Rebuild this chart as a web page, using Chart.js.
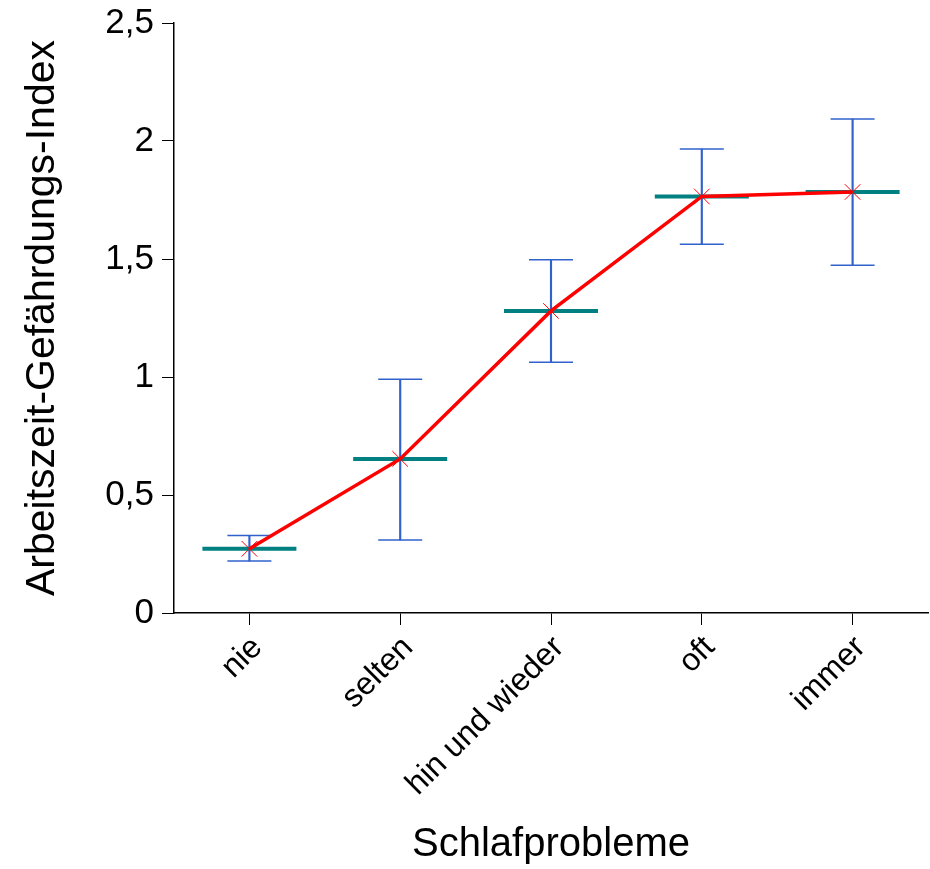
<!DOCTYPE html>
<html>
<head>
<meta charset="utf-8">
<script src="https://cdn.jsdelivr.net/npm/chart.js@4"></script>
<style>
html,body{margin:0;padding:0;background:#fff;}
#wrap{width:930px;height:869px;position:relative;}
</style>
</head>
<body>
<div id="wrap"><canvas id="c" width="930" height="869"></canvas></div>
<script>
const categories = ["nie", "selten", "hin und wieder", "oft", "immer"];
const meanValues = [0.272, 0.653, 1.280, 1.765, 1.784];
const upperValues = [0.328, 0.990, 1.497, 1.966, 2.093];
const lowerValues = [0.220, 0.309, 1.062, 1.562, 1.473];
const yTickValues = [0, 0.5, 1, 1.5, 2, 2.5];

const FONT = "'Liberation Sans', Arial, Helvetica, sans-serif";
const BLUE = '#3162cc';
const TEAL = '#008080';
const RED = '#ff0000';

const whiskers = categories.map((c, i) => [lowerValues[i], upperValues[i]]);

new Chart(document.getElementById('c'), {
  type: 'line',
  data: {
    labels: categories,
    datasets: [
      {
        type: 'bar',
        data: whiskers,
        backgroundColor: BLUE,
        borderWidth: 0,
        barThickness: 1.5,
        order: 4
      },
      {
        data: upperValues,
        showLine: false,
        pointStyle: 'line',
        pointRadius: 22,
        pointHoverRadius: 22,
        pointBorderWidth: 1.5,
        pointBorderColor: BLUE,
        pointBackgroundColor: BLUE,
        order: 3
      },
      {
        data: lowerValues,
        showLine: false,
        pointStyle: 'line',
        pointRadius: 22,
        pointHoverRadius: 22,
        pointBorderWidth: 1.5,
        pointBorderColor: BLUE,
        pointBackgroundColor: BLUE,
        order: 3
      },
      {
        data: meanValues,
        showLine: false,
        pointStyle: 'line',
        pointRadius: 47,
        pointHoverRadius: 47,
        pointBorderWidth: 4,
        pointBorderColor: TEAL,
        pointBackgroundColor: TEAL,
        order: 2
      },
      {
        data: meanValues,
        borderColor: RED,
        borderWidth: 3.5,
        tension: 0,
        pointStyle: 'crossRot',
        pointRadius: 11,
        pointHoverRadius: 11,
        pointBorderWidth: 1,
        pointBorderColor: RED,
        pointBackgroundColor: RED,
        order: 1
      }
    ]
  },
  options: {
    responsive: false,
    animation: false,
    events: [],
    layout: { autoPadding: false, padding: { left: 0, right: 2, top: 23, bottom: 0 } },
    plugins: { legend: { display: false }, tooltip: { enabled: false } },
    scales: {
      x: {
        type: 'category',
        offset: true,
        grid: { display: true, drawOnChartArea: false, drawTicks: true, tickLength: 12, color: '#000', lineWidth: 1, offset: false },
        border: { display: true, color: '#000', width: 1.5 },
        ticks: {
          color: '#000',
          font: { family: FONT, size: 32 },
          minRotation: 45,
          maxRotation: 45,
          padding: 4,
          labelOffset: 8,
          autoSkip: false
        },
        title: {
          display: true,
          text: 'Schlafprobleme',
          color: '#000',
          font: { family: FONT, size: 40 },
          padding: { top: 0, bottom: 0 }
        },
        afterFit: (axis) => {
          axis.height = 869 - 613;
          axis.paddingLeft = 0; axis.paddingRight = 0;
        }
      },
      y: {
        min: 0,
        max: 2.5,
        afterBuildTicks: (axis) => { axis.ticks = yTickValues.map(v => ({ value: v })); },
        grid: { display: true, drawOnChartArea: false, drawTicks: true, tickLength: 12, color: '#000', lineWidth: 1 },
        border: { display: true, color: '#000', width: 1.5 },
        ticks: {
          color: '#000',
          font: { family: FONT, size: 35 },
          padding: 8,
          callback: (v) => String(v).replace('.', ',')
        },
        title: {
          display: true,
          text: 'Arbeitszeit-Gefährdungs-Index',
          color: '#000',
          font: { family: FONT, size: 41 },
          padding: { top: 18, bottom: 0 }
        },
        afterFit: (axis) => {
          axis.width = 174;
          axis.paddingTop = 0; axis.paddingBottom = 0;
        }
      }
    }
  }
});
</script>
</body>
</html>
